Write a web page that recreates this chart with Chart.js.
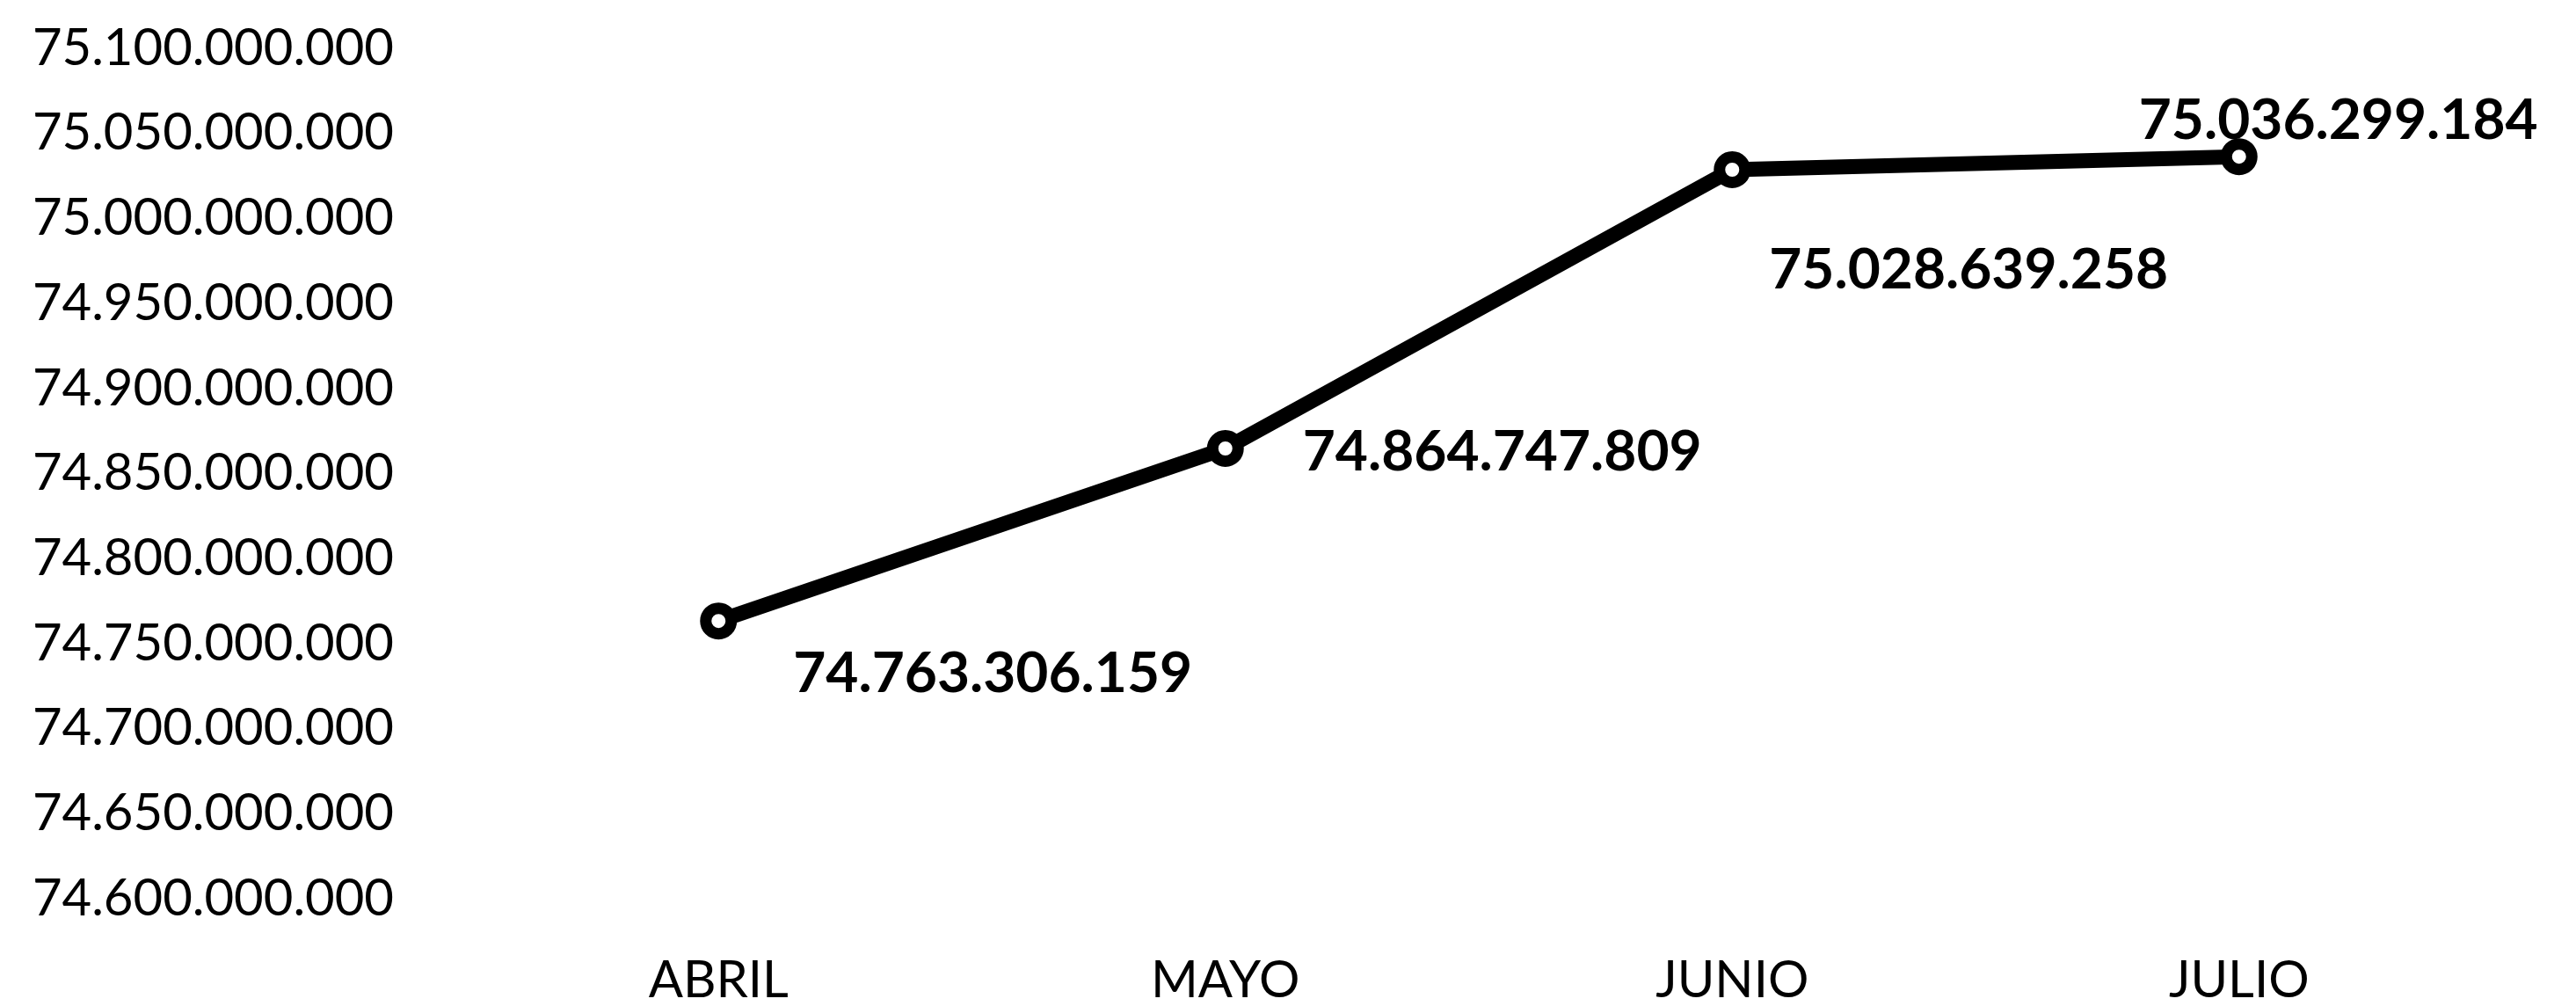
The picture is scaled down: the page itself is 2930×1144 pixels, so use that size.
<!DOCTYPE html>
<html>
<head>
<meta charset="utf-8">
<script src="https://cdn.jsdelivr.net/npm/chart.js@4/dist/chart.umd.min.js"></script>
<style>
  html, body { margin: 0; padding: 0; background: #ffffff; }
  #wrap { width: 2930px; height: 1144px; }
</style>
</head>
<body>
<div id="wrap"><canvas id="chart" width="2930" height="1144"></canvas></div>
<script>
// Monthly totals
const months = ['ABRIL', 'MAYO', 'JUNIO', 'JULIO'];
const totals = [74763306159, 74864747809, 75028639258, 75036299184];

// Value axis range
const yMin = 74600000000;
const yMax = 75100000000;
const yStep = 50000000;

// Where each value label sits relative to its point: [dx, dy] of the label's left/middle
const labelOffsets = [[85, 60], [88, 4], [42, 114], [-114, -41]];

// 74763306159 -> "74.763.306.159"
function dotted(v) {
  return Math.round(v).toString().replace(/\B(?=(\d{3})+(?!\d))/g, '.');
}

const FONT = 'Lato, "Open Sans", "Liberation Sans", sans-serif';

const valueLabels = {
  id: 'valueLabels',
  afterDatasetsDraw(chart) {
    const ctx = chart.ctx;
    const meta = chart.getDatasetMeta(0);
    ctx.save();
    ctx.font = 'bold 64px ' + FONT;
    ctx.fillStyle = '#000';
    ctx.textAlign = 'left';
    ctx.textBaseline = 'middle';
    meta.data.forEach((pt, i) => {
      const off = labelOffsets[i];
      ctx.fillText(dotted(chart.data.datasets[0].data[i]), pt.x + off[0], pt.y + off[1]);
    });
    ctx.restore();
  }
};

new Chart(document.getElementById('chart'), {
  type: 'line',
  data: {
    labels: months,
    datasets: [{
      data: totals,
      borderColor: '#000',
      borderWidth: 17,
      pointRadius: 14.5,
      pointBorderWidth: 13,
      pointBackgroundColor: '#fff',
      pointBorderColor: '#000',
      tension: 0,
      fill: false
    }]
  },
  options: {
    responsive: false,
    animation: false,
    devicePixelRatio: 1,
    layout: { padding: { top: 55, right: 95, bottom: 0, left: 0 } },
    plugins: {
      legend: { display: false },
      tooltip: { enabled: false }
    },
    scales: {
      x: {
        offset: true,
        grid: { display: false, drawTicks: false },
        border: { display: false },
        afterFit(scale) { scale.height = 122; },
        ticks: {
          color: '#000',
          font: { family: FONT, size: 58 },
          padding: 58,
          maxRotation: 0
        }
      },
      y: {
        min: yMin,
        max: yMax,
        grid: { display: false, drawTicks: false },
        border: { display: false },
        afterFit(scale) {
          scale.width = 529;
          scale.paddingTop = 0;
          scale.paddingBottom = 0;
        },
        ticks: {
          stepSize: yStep,
          color: '#000',
          font: { family: FONT, size: 58 },
          padding: 81,
          callback: (v) => dotted(v)
        }
      }
    }
  },
  plugins: [valueLabels]
});
</script>
</body>
</html>
